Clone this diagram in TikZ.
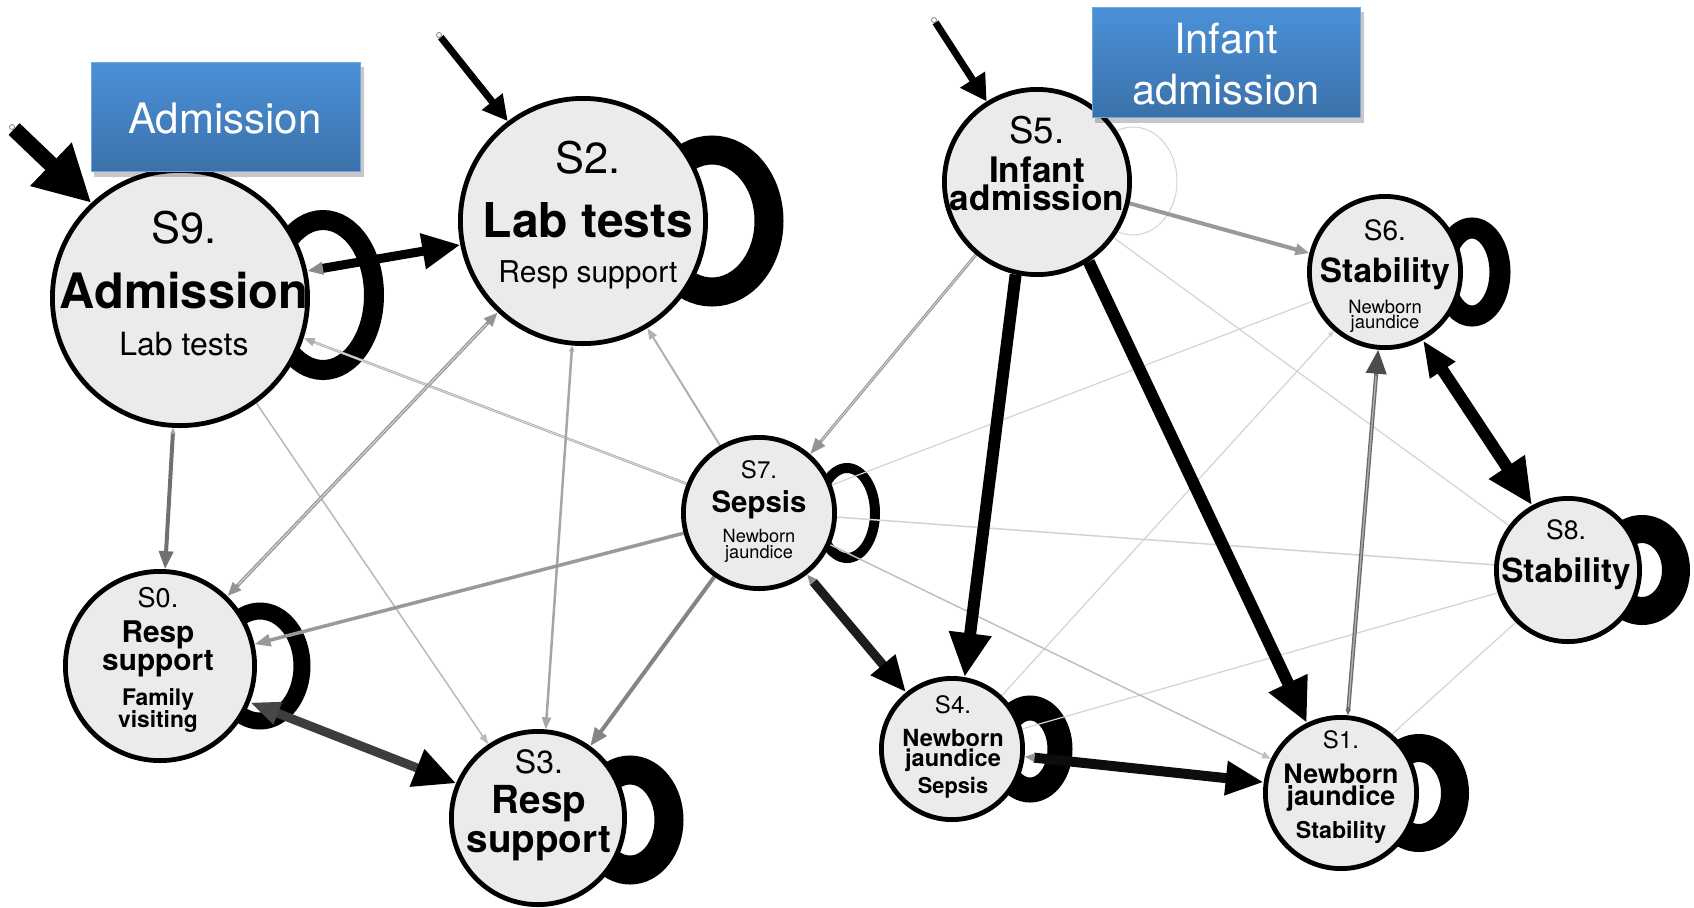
\documentclass[tikz,border=0pt]{standalone}
\usepackage{fontspec}
\setmainfont{TeX Gyre Heros}
\usetikzlibrary{arrows.meta,backgrounds}
\definecolor{nodefill}{HTML}{EBEBEB}
\definecolor{boxtop}{HTML}{4B91D8}
\definecolor{boxbot}{HTML}{3B71AA}
\definecolor{faintgray}{HTML}{D3D3D3}
\newcommand\fsz[1]{\fontsize{#1}{#1}\selectfont}
% two centred lines with a fixed baseline distance; the box baseline is the first line
\newcommand\twoline[3]{\vtop{\baselineskip=#1\lineskiplimit=-\maxdimen\lineskip=0pt
  \halign{\hfil##\hfil\cr#2\cr#3\cr}}}

\begin{document}
\begin{tikzpicture}[x=0.5pt,y=-0.5pt,
  state/.style={circle,draw=black,line width=2.4pt,fill=nodefill,inner sep=0pt},
  lbl/.style={anchor=base,inner sep=0pt,text=black},
  boxlbl/.style={anchor=base,inner sep=0pt,text=white,font=\fsz{21pt}},
  startdot/.style={circle,draw=gray,fill=white,line width=0.4pt,minimum size=2.5pt,inner sep=0pt},
  faint/.style={draw=faintgray,line width=0.6pt},
  banner/.style={top color=boxtop,bottom color=boxbot,draw=boxtop!80!white,line width=0.3pt},
  core/.style={line width=0.6pt,draw=black!18},
]
\path[use as bounding box] (0,0) rectangle (1694,907);

% ---- states ----
\node[state,minimum size=127.6pt] (s9) at (180,298) {};
\node[state,minimum size=122.6pt] (s2) at (583,221) {};
\node[state,minimum size=92.6pt]  (s5) at (1037,182) {};
\node[state,minimum size=75.6pt]  (s6) at (1385,272) {};
\node[state,minimum size=75.6pt]  (s7) at (759,513) {};
\node[state,minimum size=94.6pt]  (s0) at (160,666) {};
\node[state,minimum size=86.6pt]  (s3) at (538,818) {};
\node[state,minimum size=70.6pt]  (s4) at (952,749) {};
\node[state,minimum size=75.6pt]  (s1) at (1341,793) {};
\node[state,minimum size=71.6pt]  (s8) at (1568,570) {};

% ---- state texts ----
\node[lbl,font=\fsz{21.7pt}] (s9a) at (184,243) {S9.};
\node[lbl,font=\fsz{24.4pt}\bfseries] (s9b) at (184,308) {Admission};
\node[lbl,font=\fsz{16pt}] (s9c) at (184,355) {Lab tests};

\node[lbl,font=\fsz{21.7pt}] (s2a) at (588,173) {S2.};
\node[lbl,font=\fsz{24pt}\bfseries] (s2b) at (588,237) {Lab tests};
\node[lbl,font=\fsz{15pt}] (s2c) at (588,282) {Resp support};

\node[lbl,font=\fsz{18.3pt}] (s5a) at (1037,143) {S5.};
\node[lbl,font=\fsz{17.6pt}\bfseries] (s5b) at (1037,182) {\twoline{14pt}{Infant}{admission}};

\node[lbl,font=\fsz{14pt}] (s6a) at (1385,240) {S6.};
\node[lbl,font=\fsz{16.7pt}\bfseries] (s6b) at (1385,282) {Stability};
\node[lbl,font=\fsz{9.2pt}] (s6c) at (1385,313) {\twoline{7.5pt}{Newborn}{jaundice}};

\node[lbl,font=\fsz{13.3pt}] (s8a) at (1566,539) {S8.};
\node[lbl,font=\fsz{16.6pt}\bfseries] (s8b) at (1566,582) {Stability};

\node[lbl,font=\fsz{12pt}] (s7a) at (759,478) {S7.};
\node[lbl,font=\fsz{14.7pt}\bfseries] (s7b) at (759,512) {Sepsis};
\node[lbl,font=\fsz{9.1pt}] (s7c) at (759,542) {\twoline{8pt}{Newborn}{jaundice}};

\node[lbl,font=\fsz{13.5pt}] (s0a) at (158,607) {S0.};
\node[lbl,font=\fsz{14.9pt}\bfseries] (s0b) at (158,642) {\twoline{14pt}{Resp}{support}};
\node[lbl,font=\fsz{11.4pt}\bfseries] (s0d) at (158,705) {\twoline{11pt}{Family}{visiting}};

\node[lbl,font=\fsz{16pt}] (s3a) at (539,773) {S3.};
\node[lbl,font=\fsz{19.3pt}\bfseries] (s3b) at (539,813) {\twoline{19.5pt}{Resp}{support}};

\node[lbl,font=\fsz{12pt}] (s4a) at (953,713) {S4.};
\node[lbl,font=\fsz{11.8pt}\bfseries] (s4b) at (953,746) {\twoline{10pt}{Newborn}{jaundice}};
\node[lbl,font=\fsz{10.9pt}\bfseries] (s4d) at (953,793) {Sepsis};

\node[lbl,font=\fsz{12pt}] (s1a) at (1341,748) {S1.};
\node[lbl,font=\fsz{13.4pt}\bfseries] (s1b) at (1341,783) {\twoline{11pt}{Newborn}{jaundice}};
\node[lbl,font=\fsz{11.6pt}\bfseries] (s1d) at (1341,838) {Stability};

% ---- entry points ----
\node[startdot] (i9) at (12,127) {};
\node[startdot] (i2) at (439,35) {};
\node[startdot] (i5) at (934,20) {};

\begin{scope}[on background layer]
  % self loops
  \draw[line width=10pt]   (s9.center) ++(143,-3) ellipse [x radius=25.5pt, y radius=37.5pt];
  \draw[line width=14.5pt] (s2.center) ++(129,0)  ellipse [x radius=28.5pt, y radius=35.5pt];
  \draw[line width=5pt]    (s7.center) ++(88,0)   ellipse [x radius=14pt,   y radius=22.5pt];
  \draw[line width=10.5pt] (s6.center) ++(87,0)   ellipse [x radius=14pt,   y radius=22pt];
  \draw[line width=14pt]   (s8.center) ++(74,0)   ellipse [x radius=17pt,   y radius=20.5pt];
  \draw[line width=12.5pt] (s4.center) ++(78,0)   ellipse [x radius=15pt,   y radius=20.5pt];
  \draw[line width=14pt]   (s1.center) ++(78,0)   ellipse [x radius=18pt,   y radius=22.5pt];
  \draw[line width=8.5pt]  (s0.center) ++(100,0)  ellipse [x radius=21pt,   y radius=27.5pt];
  \draw[line width=14.5pt] (s3.center) ++(92,2)   ellipse [x radius=19.5pt, y radius=25pt];
  \draw[line width=0.5pt,draw=faintgray] (s5.center) ++(96,-1) ellipse [x radius=22pt, y radius=27pt];

  % faint transitions
  \draw[faint] (s5.-36.6) -- (s8.143);
  \draw[faint] (s7.21) -- (s6.-158.7);
  \draw[faint,-{Triangle[length=3pt,width=2.5pt]}] (s4.47) -- (s6.-131);
  \draw[faint,line width=0.75pt] (s7.-3.6) -- (s8.176);
  \draw[faint] (s8.-162.7) -- (s4.16.8);
  \draw[faint] (s8.-135) -- (s1.49.5);
  \draw[draw=black!25,line width=0.75pt,-{Triangle[length=4.5pt,width=3.5pt]}] (s7.-24.9) -- (s1.154);

  % light gray transitions
  \draw[draw=black!28,line width=0.75pt,-{Triangle[length=5pt,width=3.5pt]}] (s9.-54.8) -- (s3.124.9);
  \draw[draw=black!32,line width=1.25pt,-{Triangle[length=5.5pt,width=4pt]}] (s7.158) -- (s9.-18.8);
  \draw[core,line width=0.4pt,draw=black!12,shorten >=6pt] (s7.158) -- (s9.-18.8);
  \draw[draw=black!31,line width=1pt,-{Triangle[length=5.5pt,width=4pt]}] (s7.120) -- (s2.-59);
  \draw[draw=black!35,line width=1.25pt,{Triangle[length=3pt,width=2.5pt]}-{Triangle[length=6pt,width=4.5pt]}] (s2.-95.4) -- (s3.85);
  \draw[draw=black!40,line width=1.75pt,-{Triangle[length=8pt,width=6pt]}] (s7.-165) -- (s0.13.5);
  \draw[draw=black!42,line width=1.75pt,{Triangle[length=7pt,width=5.5pt]}-{Triangle[length=7pt,width=5.5pt]}] (s0.46) -- (s2.-133);
  \draw[core,shorten <=8pt,shorten >=8pt] (s0.46) -- (s2.-133);
  \draw[draw=black!42,line width=1.5pt,-{Triangle[length=8pt,width=6pt]}] (s5.-130) -- (s7.49);
  \draw[core,line width=0.5pt,shorten >=9pt] (s5.-130) -- (s7.49);
  \draw[draw=black!40,line width=2pt,-{Triangle[length=7pt,width=5.5pt]}] (s5.-13.7) -- (s6.166);
  \draw[draw=black!48,line width=2pt,-{Triangle[length=9pt,width=7pt]}] (s7.-125) -- (s3.54);
  \draw[draw=black!56,line width=2pt,{Triangle[length=3pt,width=2.5pt,color=black!35]}-{Triangle[length=9pt,width=7pt]}] (s9.-93) -- (s0.87.6);
  \draw[draw=black!58,line width=2pt,{Triangle[length=3pt,width=2.5pt]}-{Triangle[length=12pt,width=10pt,color=black!70]}] (s1.85.9) -- (s6.-95.7);
  \draw[core,line width=0.7pt,draw=black!32,shorten <=4pt,shorten >=13pt] (s1.85.9) -- (s6.-95.7);

  % heavy transitions
  \draw[draw=black!76,line width=4.5pt,{Triangle[length=15pt,width=11pt,color=black!72]}-{Triangle[length=21pt,width=19pt,color=black]}] (s0.-22) -- (s3.157);
  \draw[draw=black!89,line width=4.5pt,{Triangle[length=5pt,width=4pt,color=black!45]}-{Triangle[length=18pt,width=15pt,color=black]}] (s7.-52.6) -- (s4.129.7);
  \draw[draw=black!95,line width=5pt,{Triangle[length=5pt,width=4pt,color=black!40]}-{Triangle[length=19pt,width=16pt,color=black]}] (s4.-6) -- (s1.172.7);
  \draw[line width=4.5pt,{Triangle[length=8pt,width=6pt,color=black!45]}-{Triangle[length=19pt,width=17pt]}] (s9.12.4) -- (s2.-169);
  \draw[line width=6pt,-{Triangle[length=22pt,width=20pt]}] (s5.-103.6) -- (s4.80.4);
  \draw[line width=6pt,-{Triangle[length=22pt,width=20pt]}] (s5.-57.6) -- (s1.116);
  \draw[line width=6pt,{Triangle[length=18pt,width=14pt]}-{Triangle[length=23pt,width=20pt]}] (s6.-61.4) -- (s8.119);

  % entry arrows
  \draw[line width=8pt,-{Triangle[length=28pt,width=28pt]}] (i9) -- (s9.133.8);
  \draw[line width=3.5pt,-{Triangle[length=12.5pt,width=12.5pt]}] (i2) -- (s2.127.8);
  \draw[line width=3.5pt,-{Triangle[length=13pt,width=14pt]}] (i5) -- (s5.122);
\end{scope}

% ---- banners ----
\fill[black,opacity=0.22] (94,67) rectangle (364,177);
\node[banner,minimum width=134.5pt,minimum height=54.5pt,inner sep=0pt] (b1) at (225.5,116.5) {};
\node[boxlbl] (b1t) at (225,133) {Admission};
\fill[black,opacity=0.22] (1095,12) rectangle (1364,123);
\node[banner,minimum width=134pt,minimum height=55pt,inner sep=0pt] (b2) at (1226,62) {};
\node[boxlbl,font=\fsz{20.8pt}] (b2a) at (1226,53) {\twoline{25.5pt}{Infant}{admission}};
\end{tikzpicture}
\end{document}
